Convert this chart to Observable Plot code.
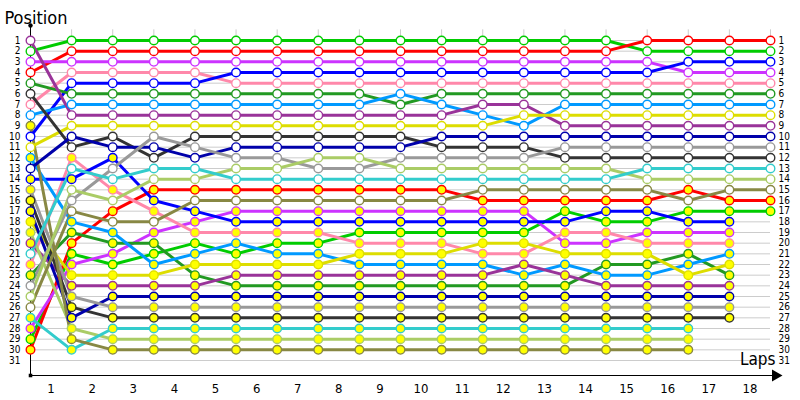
<!DOCTYPE html>
<html>
<head>
<meta charset="utf-8">
<script src="https://cdn.jsdelivr.net/npm/d3@7"></script>
<script src="https://cdn.jsdelivr.net/npm/@observablehq/plot@0.6"></script>
<style>
  html, body { margin: 0; padding: 0; background: #ffffff; }
  #chart svg { display: block; }
</style>
</head>
<body>
<div id="chart"></div>
<script>
// ---- Data (laps 0 = grid .. 18) ----
const laps = [0,1,2,3,4,5,6,7,8,9,10,11,12,13,14,15,16,17,18];
const lapLabels = ["1","2","3","4","5","6","7","8","9","10","11","12","13","14","15","16","17","18"];
const positionTicks = [1,2,3,4,5,6,7,8,9,10,11,12,13,14,15,16,17,18,19,20,21,22,23,24,25,26,27,28,29,30,31];

// car colours (same palette used by both groups)
const palette = ["#00cc00","#ff0000","#cc33ff","#ff88aa","#0000ff","#229922","#0099ff","#993399",
                 "#dddd00","#333333","#0000aa","#999999","#aacc66","#33cccc","#888844"];

// group with open (white) markers: position per lap
const openGreen   = [2,1,1,1,1,1,1,1,1,1,1,1,1,1,1,2,2,2,2];
const openRed     = [4,2,2,2,2,2,2,2,2,2,2,2,2,2,2,1,1,1,1];
const openViolet  = [3,3,3,3,3,3,3,3,3,3,3,3,3,3,3,3,4,4,4];
const openPink    = [7,4,4,4,4,5,5,5,5,5,5,5,5,5,5,5,5,5,5];
const openBlue    = [10,5,5,5,5,4,4,4,4,4,4,4,4,4,4,4,3,3,3];
const openDkgreen = [5,6,6,6,6,6,6,6,6,7,6,6,6,6,6,6,6,6,6];
const openLtblue  = [8,7,7,7,7,7,7,7,7,6,7,8,9,7,7,7,7,7,7];
const openPurple  = [1,8,8,8,8,8,8,8,8,8,8,7,7,9,9,9,9,9,9];
const openYellow  = [11,9,9,9,9,9,9,9,9,9,9,9,8,8,8,8,8,8,8];
const openBlack   = [6,11,10,12,10,10,10,10,10,10,11,11,11,12,12,12,12,12,12];
const openNavy    = [13,10,11,11,12,11,11,11,11,11,10,10,10,10,10,10,10,10,10];
const openGrey    = [24,16,13,10,11,12,12,13,13,12,12,12,12,11,11,11,11,11,11];
const openLtgreen = [25,15,16,14,14,13,13,12,12,13,13,13,13,13,13,14,14,14,14];
const openCyan    = [21,13,14,13,13,14,14,14,14,14,14,14,14,14,14,13,13,13,13];
const openOlive   = [26,17,18,18,16,16,16,16,16,16,16,15,15,15,15,15,16,15,15];

// group with filled (yellow) markers
const fillGreen   = [29,21,22,21,20,21,20,20,19,19,19,19,19,17,18,18,17,17,17];
const fillRed     = [30,20,17,15,15,15,15,15,15,15,15,16,16,16,16,16,15,16,16];
const fillViolet  = [28,22,21,19,18,17,17,17,17,17,17,17,17,20,20,19,19,19];
const fillPink    = [22,12,15,17,19,19,19,19,20,20,20,21,21,19,19,20,20,20];
const fillBlue    = [14,14,12,16,17,18,18,18,18,18,18,18,18,18,17,17,18,18];
const fillDkgreen = [23,19,20,20,23,24,24,24,24,24,24,24,24,24,22,22,21,23];
const fillLtblue  = [12,18,19,22,21,20,21,21,22,22,22,22,23,22,23,23,22,21];
const fillPurple  = [20,24,24,24,24,23,23,23,23,23,23,23,22,23,24,24,24,24];
const fillYellow  = [18,23,23,23,22,22,22,22,21,21,21,20,20,21,21,21,23,22];
const fillBlack   = [16,26,27,27,27,27,27,27,27,27,27,27,27,27,27,27,27,27];
const fillNavy    = [17,27,25,25,25,25,25,25,25,25,25,25,25,25,25,25,25,25];
const fillGrey    = [15,25,26,26,26,26,26,26,26,26,26,26,26,26,26,26,26,26];
const fillLtgreen = [19,28,29,29,29,29,29,29,29,29,29,29,29,29,29,29,29];
const fillCyan    = [27,30,28,28,28,28,28,28,28,28,28,28,28,28,28,28,28];
const fillOlive   = [9,29,30,30,30,30,30,30,30,30,30,30,30,30,30,30,30];

const openCars = [openGreen, openRed, openViolet, openPink, openBlue, openDkgreen, openLtblue, openPurple,
                  openYellow, openBlack, openNavy, openGrey, openLtgreen, openCyan, openOlive];
const filledCars = [fillGreen, fillRed, fillViolet, fillPink, fillBlue, fillDkgreen, fillLtblue, fillPurple,
                    fillYellow, fillBlack, fillNavy, fillGrey, fillLtgreen, fillCyan, fillOlive];

// ---- Build table ----
const rows = [];
function addGroup(cars, group, fill) {
  cars.forEach((seq, k) => {
    seq.forEach((pos, i) => {
      rows.push({car: group + k, lap: laps[i], pos, color: palette[k], fill});
    });
  });
}
addGroup(filledCars, "B", "#ffff00");
addGroup(openCars, "A", "#ffffff");

const font = "'DejaVu Sans Condensed', 'Liberation Sans', sans-serif";

const chart = Plot.plot({
  width: 800,
  height: 400,
  marginLeft: 30,
  marginRight: 22,
  marginTop: 25,
  marginBottom: 25,
  insetTop: 15,
  insetBottom: 15,
  insetRight: 8,
  style: {fontFamily: font, fontSize: "10px", background: "#ffffff", color: "#000"},
  x: {domain: [laps[0], laps[laps.length - 1]]},
  y: {domain: [positionTicks[0], positionTicks[positionTicks.length - 1]], reverse: true},
  color: {type: "identity"},
  marks: [
    // grid
    Plot.ruleY(positionTicks, {x1: laps[0], x2: laps[laps.length - 1], stroke: "#cccccc", strokeWidth: 1}),
    Plot.ruleX(laps.slice(1), {y1: positionTicks[0], stroke: "#cccccc", strokeWidth: 1}),
    // axes
    Plot.axisY(positionTicks, {anchor: "left", tickSize: 0, tickPadding: 10, label: null, fontSize: 10}),
    Plot.axisY(positionTicks, {anchor: "right", tickSize: 0, tickPadding: 0, label: null, fontSize: 10}),
    Plot.axisX(lapLabels.map((d, i) => i + 0.5), {anchor: "bottom", tickSize: 0, tickPadding: 8, label: null,
      fontSize: 13, tickFormat: (d, i) => lapLabels[i]}),
    Plot.frame({anchor: "left", stroke: "#000"}),
    Plot.frame({anchor: "bottom", stroke: "#000"}),
    Plot.dot([0], {frameAnchor: "top-left", r: 2.2, fill: "#000"}),
    Plot.dot([0], {frameAnchor: "bottom-left", symbol: "square", r: 2, fill: "#000"}),
    Plot.dot([0], {frameAnchor: "bottom-right", symbol: "triangle", rotate: 90, r: 4.5, fill: "#000", dx: -3}),
    // data
    Plot.line(rows, {x: "lap", y: "pos", z: "car", stroke: "color", strokeWidth: 3}),
    Plot.dot(rows, {x: "lap", y: "pos", r: 4.3, stroke: "color", fill: "fill", strokeWidth: 1.4}),
    // titles
    Plot.text(["Position"], {frameAnchor: "top-left", text: d => d, textAnchor: "start", dx: -26, dy: -14, fontSize: 18}),
    Plot.text(["Laps"], {frameAnchor: "bottom-right", text: d => d, textAnchor: "end", dx: -3, dy: -11, fontSize: 17})
  ]
});

document.getElementById("chart").appendChild(chart);
</script>
</body>
</html>
